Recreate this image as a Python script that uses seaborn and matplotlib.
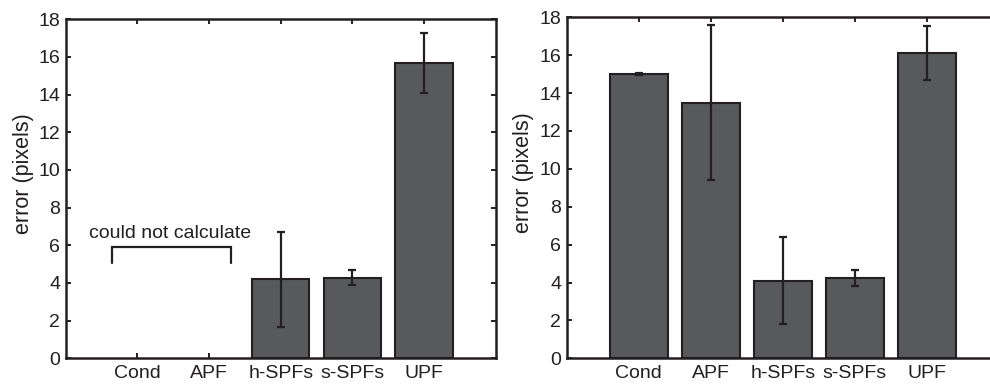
import matplotlib
matplotlib.use("Agg")
import matplotlib.pyplot as plt
import seaborn as sns
import numpy as np
import pandas as pd

categories = ["Cond", "APF", "h-SPFs", "s-SPFs", "UPF"]
left_values = [np.nan, np.nan, 4.2, 4.27, 15.68]
left_errors = [np.nan, np.nan, 2.53, 0.4, 1.6]
right_values = [15.0, 13.5, 4.1, 4.25, 16.13]
right_errors = [0.04, 4.1, 2.3, 0.41, 1.42]
yticks = [0, 2, 4, 6, 8, 10, 12, 14, 16, 18]
note_text = "could not calculate"

sns.set_theme(style="white")
plt.rcParams["font.family"] = ["Liberation Sans", "DejaVu Sans"]

BAR = "#58595b"
EDGE = "#231f20"
TXT = "#231f20"

fig = plt.figure(figsize=(9.9, 3.85), dpi=100)
ax1 = fig.add_axes([65.7 / 990, 26.7 / 385, (495.7 - 65.7) / 990, (358.3 - 19.3) / 385])
ax2 = fig.add_axes([566.7 / 990, 26.7 / 385, (998.7 - 566.7) / 990, (358.3 - 17.3) / 385])


def draw(ax, values, errors, label_xy):
    df = pd.DataFrame({"cat": categories, "val": values})
    sns.barplot(data=df, x="cat", y="val", order=categories, color=BAR,
                saturation=1, width=0.8, edgecolor=EDGE, linewidth=1.5,
                errorbar=None, ax=ax)
    for p in ax.patches:
        p.set_facecolor(BAR)
    xs = np.arange(len(categories))
    ax.errorbar(xs, values, yerr=errors, fmt="none", ecolor=EDGE,
                elinewidth=1.6, capsize=3, capthick=1.6, zorder=5)
    ax.set_xlim(-1, 5)
    ax.set_ylim(0, 18)
    ax.set_yticks(yticks)
    ax.set_xlabel("")
    ax.set_ylabel("error (pixels)", fontsize=15.5, color=TXT)
    ax.yaxis.set_label_coords(*label_xy)
    ax.tick_params(axis="both", direction="in", length=3.5, width=1.4,
                   colors=EDGE, labelcolor=TXT, labelsize=14,
                   top=True, right=True, bottom=True, left=True)
    ax.tick_params(axis="x", pad=5)
    ax.tick_params(axis="y", pad=4)
    for s in ax.spines.values():
        s.set_visible(True)
        s.set_color(EDGE)
        s.set_linewidth(1.8)
    ax.set_facecolor("white")


draw(ax1, left_values, left_errors, (-0.074, 0.544))
draw(ax2, right_values, right_errors, (-0.076, 0.545))

# bracket annotation on the left panel
ax1.plot([-0.355, -0.355, 1.31, 1.31], [5.06, 5.93, 5.93, 5.06],
         color=EDGE, lw=1.6, solid_joinstyle="miter", clip_on=False)
ax1.text(0.45, 6.4, note_text, ha="center", va="baseline", fontsize=14, color=TXT)

fig.savefig("out.png", dpi=100, facecolor="white")
